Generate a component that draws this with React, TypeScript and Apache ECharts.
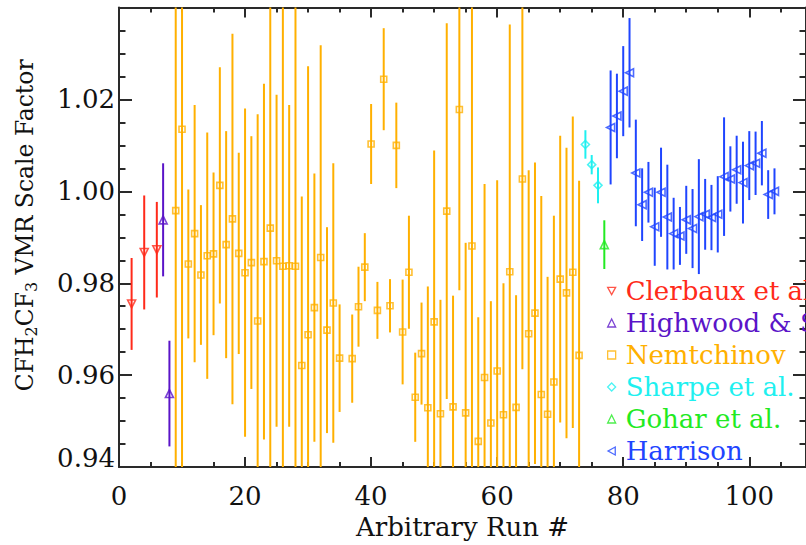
import React, { useEffect, useRef } from 'react';
import * as echarts from 'echarts';

// ---- data ----
const clerbauxRun = [2, 4, 6];
const clerbauxVal = [0.9755, 0.9867, 0.9873];
const clerbauxErr = [0.0100, 0.0124, 0.0104];

const highwoodRun = [7, 8];
const highwoodVal = [0.9938, 0.9560];
const highwoodErr = [0.0123, 0.0115];

const nemtchinovRun = [
  9, 10, 11, 12, 13, 14, 15, 16, 17, 18, 19, 20, 21, 22, 23, 24, 25, 26, 27, 28,
  29, 30, 31, 32, 33, 34, 35, 37, 38, 39, 40, 41, 42, 43, 44, 45, 46, 47, 48, 49,
  50, 51, 52, 53, 54, 55, 56, 57, 58, 59, 60, 61, 62, 63, 64, 65, 66, 67, 68, 69,
  70, 71, 72, 73,
];
const nemtchinovVal = [
  0.9958, 1.0135, 0.9842, 0.9908, 0.9818, 0.9860, 0.9864, 1.0013, 0.9884, 0.9940,
  0.9865, 0.9823, 0.9845, 0.9718, 0.9847, 0.9920, 0.9849, 0.9837, 0.9838, 0.9837,
  0.9621, 0.9688, 0.9747, 0.9856, 0.9698, 0.9757, 0.9637, 0.9636, 0.9749, 0.9835,
  1.0103, 0.9741, 1.0244, 0.9751, 1.0100, 0.9694, 0.9824, 0.9552, 0.9647, 0.9529,
  0.9716, 0.9516, 0.9957, 0.9531, 1.0178, 0.9518, 0.9881, 0.9456, 0.9595, 0.9496,
  0.9609, 0.9514, 0.9825, 0.9530, 1.0027, 0.9690, 0.9735, 0.9558, 0.9515, 0.9585,
  0.9809, 0.9779, 0.9824, 0.9643,
];
const nemtchinovErr = [
  0.060, 0.080, 0.0162, 0.0280, 0.0152, 0.0268, 0.0177, 0.0257, 0.0247, 0.0403,
  0.0219, 0.0357, 0.0275, 0.0450, 0.0387, 0.060, 0.0361, 0.060, 0.0350, 0.065,
  0.0368, 0.0584, 0.0292, 0.0462, 0.0224, 0.0304, 0.0117, 0.0096, 0.0087, 0.0074,
  0.0087, 0.0062, 0.0111, 0.0058, 0.0093, 0.0114, 0.0123, 0.0097, 0.0111, 0.0264,
  0.0373, 0.0248, 0.0409, 0.0242, 0.0393, 0.0370, 0.060, 0.0270, 0.0421, 0.0265,
  0.0415, 0.0286, 0.0538, 0.0244, 0.0414, 0.0356, 0.0328, 0.0432, 0.0299, 0.0362,
  0.0312, 0.0316, 0.0339, 0.0380,
];

const sharpeRun = [74, 75, 76];
const sharpeVal = [1.0102, 1.0058, 1.0013];
const sharpeErr = [0.0031, 0.0021, 0.0039];

const goharRun = [77];
const goharVal = [0.9884];
const goharErr = [0.0053];

const harrisonRun = [
  78, 79, 80, 81, 82, 83, 84, 85, 86, 87, 88, 89, 90, 91, 92, 93, 94, 95, 96, 97,
  98, 99, 100, 101, 102, 103, 104,
];
const harrisonVal = [
  1.0139, 1.0164, 1.0218, 1.0258, 1.0040, 0.9971, 0.9998, 0.9923, 0.9998, 0.9944,
  0.9908, 0.9903, 0.9938, 0.9919, 0.9945, 0.9950, 0.9943, 0.9950, 1.0032, 1.0027,
  1.0047, 1.0019, 1.0056, 1.0061, 1.0083, 0.9993, 1.0000,
];
const harrisonErr = [
  0.0124, 0.0092, 0.0098, 0.0119, 0.0116, 0.0079, 0.0066, 0.0085, 0.0097, 0.0114,
  0.0078, 0.0063, 0.0074, 0.0086, 0.0125, 0.0077, 0.0071, 0.0083, 0.0129, 0.0071,
  0.0074, 0.0089, 0.0075, 0.0069, 0.0070, 0.0053, 0.0050,
];

const X_MIN = 0;
const X_MAX = 109;
const Y_MIN = 0.94;
const Y_MAX = 1.04;
const xLabelStep = 20;
const xMinorStep = 5;
const yLabelStep = 0.02;
const xTitle = 'Arbitrary Run #';

const FONT = 'DejaVu Serif';
const AXIS_COLOR = '#2a2a2a';
const TEXT_COLOR = '#111';

const ICON_DOWN = 'path://M0,0L10,0L5,9Z';
const ICON_LEFT = 'path://M9,0L9,10L0,5Z';

const groups = [
  { name: 'Clerbaux et al.', run: clerbauxRun, val: clerbauxVal, err: clerbauxErr, color: '#ff2a1a', symbol: 'triangle', rotate: 180, size: 8, icon: ICON_DOWN },
  { name: 'Highwood & Shine', run: highwoodRun, val: highwoodVal, err: highwoodErr, color: '#5a14c8', symbol: 'triangle', rotate: 0, size: 8, icon: 'triangle' },
  { name: 'Nemtchinov', run: nemtchinovRun, val: nemtchinovVal, err: nemtchinovErr, color: '#ffb000', symbol: 'rect', rotate: 0, size: 6, icon: 'rect' },
  { name: 'Sharpe et al.', run: sharpeRun, val: sharpeVal, err: sharpeErr, color: '#1ef0f0', symbol: 'diamond', rotate: 0, size: 8, icon: 'diamond' },
  { name: 'Gohar et al.', run: goharRun, val: goharVal, err: goharErr, color: '#22ea22', symbol: 'triangle', rotate: 0, size: 8, icon: 'triangle' },
  { name: 'Harrison', run: harrisonRun, val: harrisonVal, err: harrisonErr, color: '#1f45ff', symbol: 'triangle', rotate: 90, size: 8, icon: ICON_LEFT },
];

function buildOption() {
  const series: any[] = [];
  groups.forEach((g) => {
    const data = g.run.map((r, i) => [r, g.val[i], g.err[i]]);
    series.push({
      type: 'custom',
      name: g.name + ' error',
      xAxisIndex: 0,
      yAxisIndex: 0,
      z: 2,
      data,
      encode: { x: 0, y: 1 },
      renderItem: (params: any, api: any) => {
        const x = api.value(0);
        const v = api.value(1);
        const e = api.value(2);
        const lo = Math.max(Y_MIN, v - e);
        const hi = Math.min(Y_MAX, v + e);
        const p1 = api.coord([x, lo]);
        const p2 = api.coord([x, hi]);
        return {
          type: 'line',
          shape: { x1: p1[0], y1: p1[1], x2: p2[0], y2: p2[1] },
          style: { stroke: g.color, lineWidth: 2 },
        };
      },
    });
    series.push({
      type: 'scatter',
      name: g.name,
      xAxisIndex: 0,
      yAxisIndex: 0,
      z: 3,
      symbol: g.symbol,
      symbolRotate: g.rotate,
      symbolSize: g.size,
      itemStyle: { color: 'rgba(255,255,255,0)', borderColor: g.color, borderWidth: 1.6 },
      data: g.run.map((r, i) => [r, g.val[i]]),
    });
  });

  const axisLineStyle = { color: AXIS_COLOR, width: 2 };
  const xCommon = {
    type: 'value',
    min: X_MIN,
    max: X_MAX,
    splitLine: { show: false },
  };

  return {
    animation: false,
    backgroundColor: '#ffffff',
    grid: { left: 119, top: 7.5, width: 688, height: 462, containLabel: false },
    xAxis: [
      {
        ...xCommon,
        position: 'bottom',
        interval: xLabelStep,
        axisLine: { show: true, onZero: false, lineStyle: axisLineStyle },
        axisTick: { show: true, inside: true, length: 10, lineStyle: axisLineStyle },
        axisLabel: {
          show: true,
          margin: 16,
          showMaxLabel: false,
          fontFamily: FONT,
          fontSize: 26,
          color: TEXT_COLOR,
          formatter: (v: number) => String(Math.round(v)),
        },
        name: xTitle,
        nameLocation: 'middle',
        nameGap: 46,
        nameTextStyle: { fontFamily: FONT, fontSize: 26, color: TEXT_COLOR },
      },
      {
        ...xCommon,
        position: 'bottom',
        interval: xMinorStep,
        axisLine: { show: false, onZero: false },
        axisTick: { show: true, inside: true, length: 5, lineStyle: axisLineStyle },
        axisLabel: { show: false },
      },
      {
        ...xCommon,
        position: 'top',
        interval: xLabelStep,
        axisLine: { show: true, onZero: false, lineStyle: axisLineStyle },
        axisTick: { show: true, inside: true, length: 10, lineStyle: axisLineStyle },
        axisLabel: { show: false },
      },
      {
        ...xCommon,
        position: 'top',
        interval: xMinorStep,
        axisLine: { show: false, onZero: false },
        axisTick: { show: true, inside: true, length: 5, lineStyle: axisLineStyle },
        axisLabel: { show: false },
      },
    ],
    yAxis: [
      {
        type: 'value',
        position: 'left',
        min: Y_MIN,
        max: Y_MAX,
        interval: yLabelStep,
        splitLine: { show: false },
        axisLine: { show: true, onZero: false, lineStyle: axisLineStyle },
        axisTick: { show: true, inside: true, length: 13, lineStyle: axisLineStyle },
        minorTick: { show: true, splitNumber: 4, length: 6.5, lineStyle: axisLineStyle },
        axisLabel: {
          show: true,
          margin: 4,
          showMaxLabel: false,
          fontFamily: FONT,
          fontSize: 26,
          color: TEXT_COLOR,
          formatter: (v: number) => {
            const s = v.toFixed(2);
            return s === '0.94' ? '{lo|' + s + '}' : s;
          },
          rich: {
            lo: { fontFamily: FONT, fontSize: 26, color: TEXT_COLOR, padding: [0, 0, 18, 0] },
          },
        },
        name: '{n|CFH}{s|2}{n|CF}{s|3}{n| VMR Scale Factor}',
        nameLocation: 'middle',
        nameGap: 80,
        nameTextStyle: {
          fontFamily: FONT,
          fontSize: 23.5,
          color: TEXT_COLOR,
          padding: [0, 0, 0, 24],
          rich: {
            n: { fontFamily: FONT, fontSize: 23.5, color: TEXT_COLOR },
            s: { fontFamily: FONT, fontSize: 16, color: TEXT_COLOR, padding: [12, 0, 0, 0] },
          },
        },
      },
      {
        type: 'value',
        position: 'right',
        min: Y_MIN,
        max: Y_MAX,
        interval: yLabelStep,
        splitLine: { show: false },
        axisLine: { show: true, onZero: false, lineStyle: axisLineStyle },
        axisTick: { show: true, inside: true, length: 13, lineStyle: axisLineStyle },
        minorTick: { show: true, splitNumber: 4, length: 6.5, lineStyle: axisLineStyle },
        axisLabel: { show: false },
      },
    ],
    legend: {
      orient: 'vertical',
      left: 607,
      top: 278,
      padding: 0,
      itemGap: 6,
      itemWidth: 8,
      itemHeight: 8,
      selectedMode: false,
      textStyle: { fontFamily: FONT, fontSize: 26, lineHeight: 26, padding: [0, 0, 0, 5] },
      data: groups.map((g) => ({
        name: g.name,
        icon: g.icon,
        itemStyle: { color: 'rgba(255,255,255,0)', borderColor: g.color, borderWidth: 1.3 },
        textStyle: { color: g.color, fontFamily: FONT, fontSize: 26, lineHeight: 26, padding: [0, 0, 0, 5] },
      })),
    },
    series,
  };
}

export default function App() {
  const ref = useRef<HTMLDivElement>(null);
  useEffect(() => {
    if (!ref.current) return;
    const chart = echarts.init(ref.current, null, { renderer: 'svg' });
    chart.setOption(buildOption() as any);
    return () => {
      chart.dispose();
    };
  }, []);
  return (
    <div
      ref={ref}
      style={{ position: 'absolute', left: 0, top: 0, width: 806, height: 545, background: '#fff' }}
    />
  );
}
